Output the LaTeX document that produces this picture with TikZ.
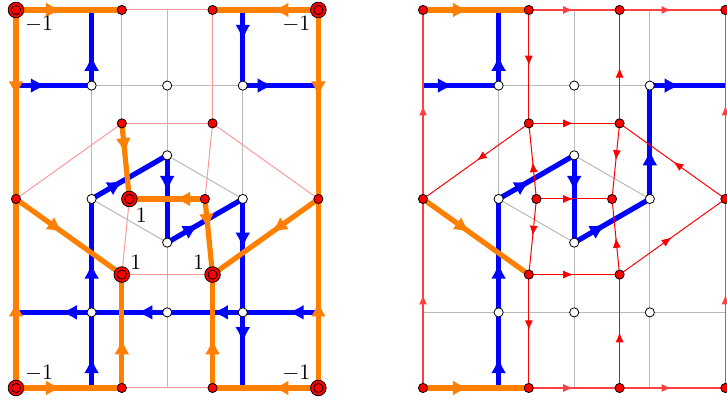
\documentclass[tikz,border=0pt]{standalone}
\usetikzlibrary{arrows.meta,decorations.markings}
\newcommand\mkpanel[1]{%
 \coordinate (#1b04) at (0,4);
 \coordinate (#1b44) at (4,4);
 \coordinate (#1b01) at (0,1);
 \coordinate (#1b41) at (4,1);
 \coordinate (#1b15) at (1,5);
 \coordinate (#1b25) at (2,5);
 \coordinate (#1b35) at (3,5);
 \coordinate (#1b10) at (1,0);
 \coordinate (#1b20) at (2,0);
 \coordinate (#1b30) at (3,0);
 \coordinate (#1w14) at (1,4);
 \coordinate (#1w24) at (2,4);
 \coordinate (#1w34) at (3,4);
 \coordinate (#1w11) at (1,1);
 \coordinate (#1w21) at (2,1);
 \coordinate (#1w31) at (3,1);
 \coordinate (#1wl) at (1,2.5);
 \coordinate (#1wt) at (2,3.0774);
 \coordinate (#1wr) at (3,2.5);
 \coordinate (#1wb) at (2,1.9226);
 \coordinate (#1c00) at (0,0);
 \coordinate (#1c40) at (4,0);
 \coordinate (#1c05) at (0,5);
 \coordinate (#1c45) at (4,5);
 \coordinate (#1t1) at (1.4,5);
 \coordinate (#1t2) at (2.6,5);
 \coordinate (#1u1) at (1.4,3.5);
 \coordinate (#1u2) at (2.6,3.5);
 \coordinate (#1m0) at (0,2.5);
 \coordinate (#1m1) at (1.5,2.5);
 \coordinate (#1m2) at (2.5,2.5);
 \coordinate (#1m3) at (4,2.5);
 \coordinate (#1d1) at (1.4,1.5);
 \coordinate (#1d2) at (2.6,1.5);
 \coordinate (#1e1) at (1.4,0);
 \coordinate (#1e2) at (2.6,0);
}
\newcommand\mkwhites[1]{%
 \foreach \n in {w14,w24,w34,w11,w21,w31,wl,wt,wr,wb}{\node[wnode] (#1\n n) at (#1\n) {};}%
}
\tikzset{
 gridl/.style={gray!55, line width=0.5pt},
 pinkl/.style={red!40, line width=0.5pt},
 bl/.style={blue, line width=2.6pt, postaction={decorate},
   decoration={markings, mark=at position 0.5 with {\arrow[xshift=-3.5pt]{Latex[length=8pt,width=7.5pt]}}}},
 ol/.style={orange, line width=2.6pt, postaction={decorate},
   decoration={markings, mark=at position 0.5 with {\arrow[xshift=-3.5pt]{Latex[length=8pt,width=7.5pt]}}}},
 rl/.style={red, line width=0.5pt, postaction={decorate},
   decoration={markings, mark=at position 0.5 with {\arrow[xshift=-0.5pt]{Latex[length=5pt,width=4pt]}}}},
 rlb/.style={rl, red!75, line width=0.75pt},
 rnode/.style={circle, draw=black, fill=red, line width=0.4pt, inner sep=0pt, minimum size=4.6pt},
 bignode/.style={rnode, minimum size=7.8pt},
 wnode/.style={circle, draw=black, fill=white, line width=0.4pt, inner sep=0pt, minimum size=4.6pt},
 lbl/.style={font=\fontsize{11}{13}\selectfont, inner sep=0pt},
}
\begin{document}
\begin{tikzpicture}[x=37.8pt,y=37.8pt]
\useasboundingbox (-0.2116,-0.172) rectangle (9.405,5.132);
% ---------------- left panel ----------------
\mkpanel{L}
\draw[gridl] (Lw14) -- (Lw34);
\draw[gridl] (Lw14) -- (Lwl);
\draw[gridl] (Lb25) -- (Lwt);
\draw[gridl] (Lwb) -- (Lb20);
\draw[gridl] (Lw34) -- (Lwr);
\draw[gridl] (Lwt) -- (Lwr);
\draw[gridl] (Lwl) -- (Lwb);
\draw[pinkl] (Lt1) -- (Lt2);
\draw[pinkl] (Lt1) -- (Lu1);
\draw[pinkl] (Lt2) -- (Lu2);
\draw[pinkl] (Lu1) -- (Lu2);
\draw[pinkl] (Lu1) -- (Lm0);
\draw[pinkl] (Lu2) -- (Lm3);
\draw[pinkl] (Lu2) -- (Lm2);
\draw[pinkl] (Lm1) -- (Ld1);
\draw[pinkl] (Ld1) -- (Ld2);
\draw[pinkl] (Le1) -- (Le2);
\draw[bl] (Lb04) -- (Lw14);
\draw[bl] (Lw14) -- (Lb15);
\draw[bl] (Lb35) -- (Lw34);
\draw[bl] (Lw34) -- (Lb44);
\draw[bl] (Lb10) -- (Lw11);
\draw[bl] (Lw11) -- (Lwl);
\draw[bl] (Lwl) -- (Lwt);
\draw[bl] (Lwt) -- (Lwb);
\draw[bl] (Lwb) -- (Lwr);
\draw[bl] (Lwr) -- (Lw31);
\draw[bl] (Lw31) -- (Lb30);
\draw[bl] (Lb41) -- (Lw31);
\draw[bl] (Lw31) -- (Lw21);
\draw[bl] (Lw21) -- (Lw11);
\draw[bl] (Lw11) -- (Lb01);
\draw[ol] (Lc05) -- (Lt1);
\draw[ol] (Lc45) -- (Lt2);
\draw[ol] (Lc05) -- (Lm0);
\draw[ol] (Lc00) -- (Lm0);
\draw[ol] (Lc45) -- (Lm3);
\draw[ol] (Lc40) -- (Lm3);
\draw[ol] (Lc00) -- (Le1);
\draw[ol] (Lc40) -- (Le2);
\draw[ol] (Le1) -- (Ld1);
\draw[ol] (Le2) -- (Ld2);
\draw[ol] (Lm0) -- (Ld1);
\draw[ol] (Lm3) -- (Ld2);
\draw[ol] (Lu1) -- (Lm1);
\draw[ol] (Lm2) -- (Lm1);
\draw[ol] (Lm2) -- (Ld2);
\mkwhites{L}
\foreach \n in {t1,t2,u1,u2,m0,m2,m3,e1,e2}{\node[rnode] (L\n n) at (L\n) {};}
\foreach \n in {c05,c45,c00,c40,m1,d1,d2}{\node[bignode] (L\n n) at (L\n) {}; \node[rnode] (L\n i) at (L\n) {};}
\node[lbl, xshift=11.5pt, yshift=-7pt] (Llc05) at (Lc05) {$-1$};
\node[lbl, xshift=-11pt, yshift=-7pt] (Llc45) at (Lc45) {$-1$};
\node[lbl, xshift=11.5pt, yshift=7.5pt] (Llc00) at (Lc00) {$-1$};
\node[lbl, xshift=-11pt, yshift=7.5pt] (Llc40) at (Lc40) {$-1$};
\node[lbl, xshift=6pt, yshift=-8pt] (Llm1) at (Lm1) {$1$};
\node[lbl, xshift=7pt, yshift=6pt] (Lld1) at (Ld1) {$1$};
\node[lbl, xshift=-7pt, yshift=6pt] (Lld2) at (Ld2) {$1$};
% ---------------- right panel ----------------
\begin{scope}[shift={(5.384,0)}]
\mkpanel{R}
\draw[gridl] (Rw14) -- (Rw34);
\draw[gridl] (Rb01) -- (Rb41);
\draw[gridl] (Rw14) -- (Rwl);
\draw[gridl] (Rb25) -- (Rwt);
\draw[gridl] (Rwb) -- (Rb20);
\draw[gridl] (Rb35) -- (Rw34);
\draw[gridl] (Rwr) -- (Rb30);
\draw[gridl] (Rwt) -- (Rwr);
\draw[gridl] (Rwl) -- (Rwb);
\draw[bl] (Rb04) -- (Rw14);
\draw[bl] (Rw14) -- (Rb15);
\draw[bl] (Rb10) -- (Rw11);
\draw[bl] (Rw11) -- (Rwl);
\draw[bl] (Rwl) -- (Rwt);
\draw[bl] (Rwt) -- (Rwb);
\draw[bl] (Rwb) -- (Rwr);
\draw[bl] (Rwr) -- (Rw34);
\draw[bl] (Rw34) -- (Rb44);
\draw[rlb] (Rc00) -- (Rm0);
\draw[rlb] (Rm0) -- (Rc05);
\draw[rlb] (Rt1) -- (Rt2);
\draw[rlb] (Rt2) -- (Rc45);
\draw[rlb] (Rc40) -- (Rm3);
\draw[rlb] (Rm3) -- (Rc45);
\draw[rlb] (Re1) -- (Re2);
\draw[rlb] (Re2) -- (Rc40);
\draw[rl] (Rt1) -- (Ru1);
\draw[rl] (Ru2) -- (Rt2);
\draw[rl] (Ru1) -- (Ru2);
\draw[rl] (Ru1) -- (Rm0);
\draw[rl] (Rm3) -- (Ru2);
\draw[rl] (Rm1) -- (Ru1);
\draw[rl] (Ru2) -- (Rm2);
\draw[rl] (Rm1) -- (Rm2);
\draw[rl] (Rm1) -- (Rd1);
\draw[rl] (Rd2) -- (Rm2);
\draw[rl] (Rd1) -- (Rd2);
\draw[rl] (Rd2) -- (Rm3);
\draw[rl] (Rd1) -- (Re1);
\draw[rl] (Re2) -- (Rd2);
\draw[ol] (Rc05) -- (Rt1);
\draw[ol] (Rm0) -- (Rd1);
\draw[ol] (Rc00) -- (Re1);
\mkwhites{R}
\foreach \n in {c05,c45,c00,c40,t1,t2,u1,u2,m0,m1,m2,m3,d1,d2,e1,e2}{\node[rnode] (R\n n) at (R\n) {};}
\end{scope}
\end{tikzpicture}
\end{document}
